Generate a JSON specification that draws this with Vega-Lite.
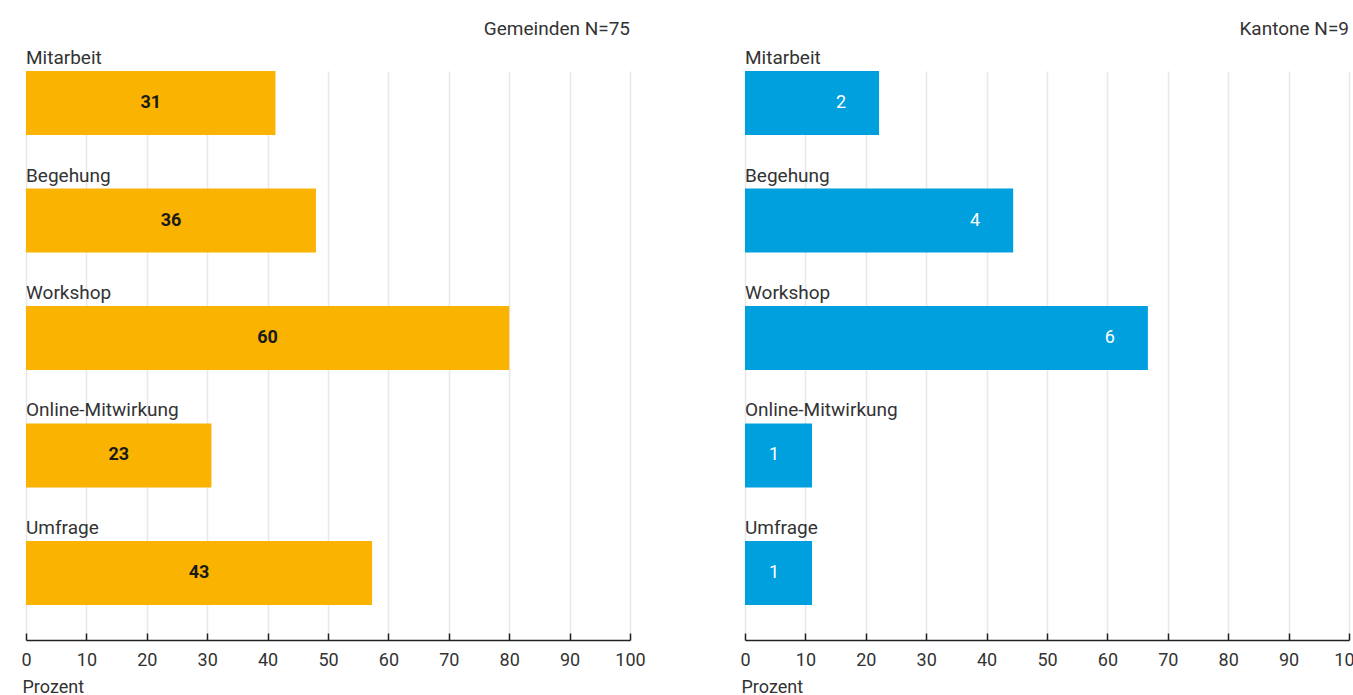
{
  "$schema": "https://vega.github.io/schema/vega-lite/v6.json",
  "padding": {"left": 20, "top": 20, "right": 0, "bottom": 0},
  "spacing": 93,
  "config": {
    "view": {"stroke": null},
    "font": "Roboto",
    "axis": {
      "grid": true,
      "gridColor": "#e8e8e8",
      "gridWidth": 1.5,
      "domainColor": "#222",
      "domainWidth": 1.5,
      "tickColor": "#222",
      "tickWidth": 1.5,
      "tickSize": -7,
      "labelFlush": false,
      "labelFontSize": 18,
      "labelColor": "#333",
      "labelPadding": 18,
      "titleFontSize": 18,
      "titleFontWeight": "normal",
      "titleColor": "#333",
      "titleAnchor": "start",
      "titleAlign": "left",
      "titleX": -4,
      "titlePadding": 9
    },
    "title": {"fontSize": 19, "fontWeight": "normal", "color": "#333", "anchor": "end", "frame": "group"}
  },
  "datasets": {
    "gem": [
      {"cat": "Mitarbeit", "n": 31, "pct": 41.3},
      {"cat": "Begehung", "n": 36, "pct": 48.0},
      {"cat": "Workshop", "n": 60, "pct": 80.0},
      {"cat": "Online-Mitwirkung", "n": 23, "pct": 30.7},
      {"cat": "Umfrage", "n": 43, "pct": 57.3}
    ],
    "kan": [
      {"cat": "Mitarbeit", "n": 2, "pct": 22.2},
      {"cat": "Begehung", "n": 4, "pct": 44.4},
      {"cat": "Workshop", "n": 6, "pct": 66.7},
      {"cat": "Online-Mitwirkung", "n": 1, "pct": 11.1},
      {"cat": "Umfrage", "n": 1, "pct": 11.1}
    ]
  },
  "hconcat": [
    {
      "width": 604,
      "height": 569,
      "title": {"text": "Gemeinden N=75", "offset": 10},
      "data": {"name": "gem"},
      "encoding": {
        "y": {"field": "cat", "type": "nominal", "sort": null, "axis": null,
              "scale": {"paddingInner": 0.455, "paddingOuter": 0.149, "align": 0}}
      },
      "layer": [
        {
          "mark": {"type": "bar", "color": "#F9B300"},
          "encoding": {
            "x": {"field": "pct", "type": "quantitative", "scale": {"domain": [0, 100]},
                  "axis": {"values": [0, 10, 20, 30, 40, 50, 60, 70, 80, 90, 100], "title": "Prozent"}}
          }
        },
        {
          "mark": {"type": "text", "align": "left", "baseline": "alphabetic", "yOffset": -39, "fontSize": 19, "color": "#333"},
          "encoding": {"x": {"datum": 0, "type": "quantitative"}, "text": {"field": "cat"}}
        },
        {
          "transform": [{"calculate": "datum.pct / 2", "as": "mid"}],
          "mark": {"type": "text", "align": "center", "baseline": "middle", "fontSize": 18, "fontWeight": "bold", "color": "#1a1a1a"},
          "encoding": {"x": {"field": "mid", "type": "quantitative"}, "text": {"field": "n"}}
        }
      ]
    },
    {
      "width": 604,
      "height": 569,
      "title": {"text": "Kantone N=9", "offset": 10},
      "data": {"name": "kan"},
      "encoding": {
        "y": {"field": "cat", "type": "nominal", "sort": null, "axis": null,
              "scale": {"paddingInner": 0.455, "paddingOuter": 0.149, "align": 0}}
      },
      "layer": [
        {
          "mark": {"type": "bar", "color": "#00A0DF"},
          "encoding": {
            "x": {"field": "pct", "type": "quantitative", "scale": {"domain": [0, 100]},
                  "axis": {"values": [0, 10, 20, 30, 40, 50, 60, 70, 80, 90, 100], "title": "Prozent"}}
          }
        },
        {
          "mark": {"type": "text", "align": "left", "baseline": "alphabetic", "yOffset": -39, "fontSize": 19, "color": "#333"},
          "encoding": {"x": {"datum": 0, "type": "quantitative"}, "text": {"field": "cat"}}
        },
        {
          "mark": {"type": "text", "align": "center", "baseline": "middle", "dx": -38, "fontSize": 18, "color": "#ffffff"},
          "encoding": {"x": {"field": "pct", "type": "quantitative"}, "text": {"field": "n"}}
        }
      ]
    }
  ]
}
